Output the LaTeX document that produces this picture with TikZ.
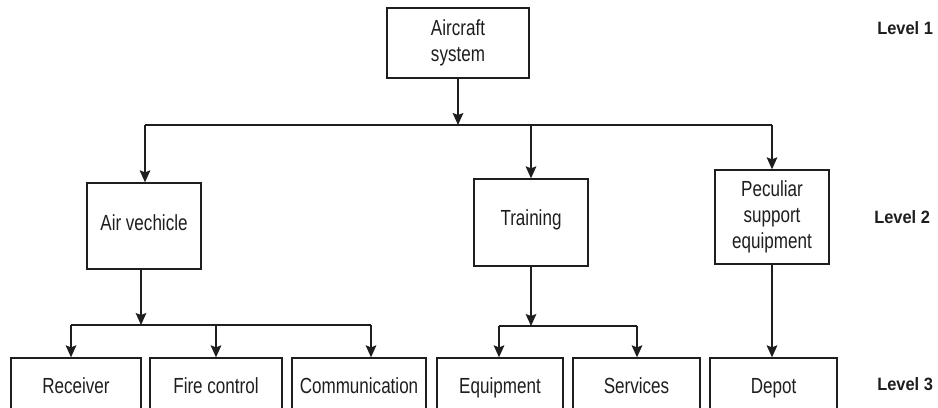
\documentclass[tikz,border=0pt]{standalone}
\usepackage{fontspec}
\setmainfont{Liberation Sans}
\newfontfamily\condsans[FakeStretch=0.78]{Liberation Sans}
\newfontfamily\lvlsans[FakeStretch=0.92]{Liberation Sans}
\usetikzlibrary{arrows.meta}
\definecolor{linec}{HTML}{1E1E1E}
\begin{document}
\begin{tikzpicture}[x=0.75pt,y=-0.75pt,
  box/.style={draw=linec, line width=1pt, fill=white, inner sep=0pt,
    align=center, text=linec, font=\condsans\fontsize{16.4}{19.5}\selectfont},
  onebox/.style={box, text height=12pt, text depth=#1},
  onebox/.default=0pt,
  lvl/.style={anchor=west, text=linec, inner sep=0pt,
    font=\lvlsans\bfseries\fontsize{13.4}{15}\selectfont},
  conn/.style={draw=linec, line width=1pt},
  arr/.style={conn, -{Stealth[length=9pt,width=8pt,inset=1.5pt]}}]
\useasboundingbox (0,0) rectangle (938,407);
\clip (0,0) rectangle (938,407);

% level 1
\node[box, minimum width=106.5pt, minimum height=52.5pt] (ac) at (458,43) {Aircraft\\system};

% level 2
\node[onebox=5.25pt, minimum width=85.5pt, minimum height=64.5pt] (av) at (144,226) {Air vechicle};
\node[onebox=7.5pt, minimum width=85.5pt, minimum height=65.25pt] (tr) at (531,222.5) {Training};
\node[box, minimum width=85.5pt, minimum height=70.5pt] (pe) at (772,217) {Peculiar\\support\\equipment};

% level 3 (boxes run off the lower edge)
\node[onebox, minimum width=97.5pt, minimum height=40.5pt] (rc) at (76,385) {Receiver};
\node[onebox, minimum width=99pt, minimum height=40.5pt] (fc) at (216,385) {Fire control};
\node[onebox, minimum width=100.5pt, minimum height=40.5pt] (cm) at (359,385) {Communication};
\node[onebox, minimum width=94.5pt, minimum height=40.5pt] (eq) at (500,385) {Equipment};
\node[onebox, minimum width=95.25pt, minimum height=40.5pt] (sv) at (636.5,385) {Services};
\node[onebox, minimum width=95.25pt, minimum height=40.5pt] (dp) at (773.5,385) {Depot};

% level labels
\node[lvl] (l1) at (877,28) {Level 1};
\node[lvl] (l2) at (874,217) {Level 2};
\node[lvl] (l3) at (877,384) {Level 3};

% bus from the aircraft system
\coordinate (j1) at (458,125);
\coordinate (b1l) at (145,125);
\coordinate (b1r) at (772,125);
\draw[arr] (ac.south) -- (j1);
\draw[conn] (b1l) -- (b1r);
\draw[arr] (b1l) -- (av.north -| b1l);
\draw[arr] (tr.north |- j1) -- (tr.north);
\draw[arr] (b1r) -- (pe.north -| b1r);

% bus from the air vehicle
\coordinate (j2) at (141,325);
\coordinate (b2l) at (71,325);
\coordinate (b2r) at (371,325);
\draw[arr] (av.south -| j2) -- (j2);
\draw[conn] (b2l) -- (b2r);
\draw[arr] (b2l) -- (rc.north -| b2l);
\draw[arr] (fc.north |- j2) -- (fc.north);
\draw[arr] (b2r) -- (cm.north -| b2r);

% bus from training
\coordinate (j3) at (531,326);
\coordinate (b3l) at (499,326);
\coordinate (b3r) at (637,326);
\draw[arr] (tr.south) -- (j3);
\draw[conn] (b3l) -- (b3r);
\draw[arr] (b3l) -- (eq.north -| b3l);
\draw[arr] (b3r) -- (sv.north -| b3r);

% depot
\draw[arr] (pe.south) -- (dp.north -| pe.south);
\end{tikzpicture}
\end{document}
